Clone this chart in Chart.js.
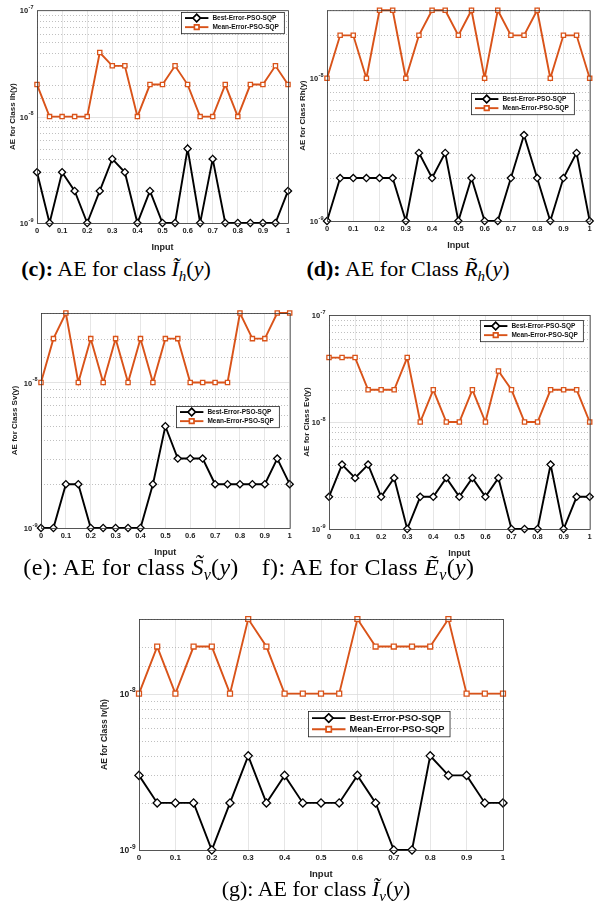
<!DOCTYPE html>
<html>
<head>
<meta charset="utf-8">
<script src="https://cdn.jsdelivr.net/npm/chart.js@4.4.0/dist/chart.umd.min.js"></script>
<style>
  body { margin: 0; background: #fff; width: 595px; height: 914px; position: relative; overflow: hidden; }
  canvas { position: absolute; }
  .cap { position: absolute; font-family: "Liberation Serif", "DejaVu Serif", serif; font-size: 22px; line-height: 26px;
         white-space: nowrap; color: #000; transform: translateX(-50%); }
  .cap sub { font-size: 15px; vertical-align: -5px; line-height: 0; }
  .cap.big { font-size: 24px; line-height: 28px; letter-spacing: 0.3px; }
  .cap.big sub { font-size: 16px; vertical-align: -5px; }
</style>
</head>
<body>
<canvas id="pc"></canvas>
<canvas id="pd"></canvas>
<canvas id="pe"></canvas>
<canvas id="pf"></canvas>
<canvas id="pg"></canvas>

<div class="cap" style="left:116px;top:256px"><b>(c):</b> AE for class <i>Ĩ</i><sub><i>h</i></sub>(<i>y</i>)</div>
<div class="cap" style="left:408px;top:256px"><b>(d):</b> AE for Class <i>R̃</i><sub><i>h</i></sub>(<i>y</i>)</div>
<div class="cap big" style="left:131px;top:553px">(e): AE for class <i>S̃</i><sub><i>v</i></sub>(<i>y</i>)</div>
<div class="cap big" style="left:368px;top:553px">f): AE for Class <i>Ẽ</i><sub><i>v</i></sub>(<i>y</i>)</div>
<div class="cap" style="left:316px;top:876px">(g): AE for class <i>Ĩ</i><sub><i>v</i></sub>(<i>y</i>)</div>

<script>
// x values shared by every panel
const inputs = [0, 0.05, 0.1, 0.15, 0.2, 0.25, 0.3, 0.35, 0.4, 0.45, 0.5, 0.55, 0.6, 0.65, 0.7, 0.75, 0.8, 0.85, 0.9, 0.95, 1];
const seriesLabels = ['Best-Error-PSO-SQP', 'Mean-Error-PSO-SQP'];

// (c) class Ih(y)
const bestIh = [3e-9, 1e-9, 3e-9, 2e-9, 1e-9, 2e-9, 4e-9, 3e-9, 1e-9, 2e-9, 1e-9, 1e-9, 5e-9, 1e-9, 4e-9, 1e-9, 1e-9, 1e-9, 1e-9, 1e-9, 2e-9];
const meanIh = [2e-8, 1e-8, 1e-8, 1e-8, 1e-8, 4e-8, 3e-8, 3e-8, 1e-8, 2e-8, 2e-8, 3e-8, 2e-8, 1e-8, 1e-8, 2e-8, 1e-8, 2e-8, 2e-8, 3e-8, 2e-8];
// (d) class Rh(y)
const bestRh = [1e-9, 2e-9, 2e-9, 2e-9, 2e-9, 2e-9, 1e-9, 3e-9, 2e-9, 3e-9, 1e-9, 2e-9, 1e-9, 1e-9, 2e-9, 4e-9, 2e-9, 1e-9, 2e-9, 3e-9, 1e-9];
const meanRh = [1e-8, 2e-8, 2e-8, 1e-8, 3e-8, 3e-8, 1e-8, 2e-8, 3e-8, 3e-8, 2e-8, 3e-8, 1e-8, 3e-8, 2e-8, 2e-8, 3e-8, 1e-8, 2e-8, 2e-8, 1e-8];
// (e) class Sv(y)
const bestSv = [1e-9, 1e-9, 2e-9, 2e-9, 1e-9, 1e-9, 1e-9, 1e-9, 1e-9, 2e-9, 5e-9, 3e-9, 3e-9, 3e-9, 2e-9, 2e-9, 2e-9, 2e-9, 2e-9, 3e-9, 2e-9];
const meanSv = [1e-8, 2e-8, 3e-8, 1e-8, 2e-8, 1e-8, 2e-8, 1e-8, 2e-8, 1e-8, 2e-8, 2e-8, 1e-8, 1e-8, 1e-8, 1e-8, 3e-8, 2e-8, 2e-8, 3e-8, 3e-8];
// (f) class Ev(y)
const bestEv = [2e-9, 4e-9, 3e-9, 4e-9, 2e-9, 3e-9, 1e-9, 2e-9, 2e-9, 3e-9, 2e-9, 3e-9, 2e-9, 3e-9, 1e-9, 1e-9, 1e-9, 4e-9, 1e-9, 2e-9, 2e-9];
const meanEv = [4e-8, 4e-8, 4e-8, 2e-8, 2e-8, 2e-8, 4e-8, 1e-8, 2e-8, 1e-8, 1e-8, 2e-8, 1e-8, 3e-8, 2e-8, 1e-8, 1e-8, 2e-8, 2e-8, 2e-8, 1e-8];
// (g) class Iv(h)
const bestIv = [3e-9, 2e-9, 2e-9, 2e-9, 1e-9, 2e-9, 4e-9, 2e-9, 3e-9, 2e-9, 2e-9, 2e-9, 3e-9, 2e-9, 1e-9, 1e-9, 4e-9, 3e-9, 3e-9, 2e-9, 2e-9];
const meanIv = [1e-8, 2e-8, 1e-8, 2e-8, 2e-8, 1e-8, 3e-8, 2e-8, 1e-8, 1e-8, 1e-8, 1e-8, 3e-8, 2e-8, 2e-8, 2e-8, 2e-8, 3e-8, 1e-8, 1e-8, 1e-8];

const ORANGE = '#D95319';
const SANS = '"Liberation Sans", Arial, sans-serif';

function isDecade(v) {
    const e = Math.log10(v);
    return Math.abs(e - Math.round(e)) < 1e-6;
}

// MATLAB-ish grid, 10^n labels, box and an inside legend
const framePlugin = {
    id: 'frame',
    beforeDatasetsDraw(chart) {
        const { ctx, chartArea: a } = chart;
        const y = chart.scales.y;
        ctx.save();
        y.ticks.forEach(t => {
            const py = Math.round(y.getPixelForValue(t.value)) + 0.5;
            ctx.beginPath();
            if (isDecade(t.value)) {
                ctx.setLineDash([]);
                ctx.strokeStyle = '#dcdcdc';
            } else {
                ctx.setLineDash([1, 2]);
                ctx.strokeStyle = '#b0b0b0';
            }
            ctx.lineWidth = 0.8;
            ctx.moveTo(a.left, py);
            ctx.lineTo(a.right, py);
            ctx.stroke();
        });
        ctx.restore();
    },
    afterDraw(chart, args, opts) {
        const { ctx, chartArea: a } = chart;
        const y = chart.scales.y;
        ctx.save();
        ctx.strokeStyle = '#333';
        ctx.lineWidth = 0.8;
        ctx.strokeRect(a.left + 0.5, a.top + 0.5, a.right - a.left, a.bottom - a.top);

        // decade labels as 10 with a raised exponent
        ctx.fillStyle = '#222';
        ctx.textBaseline = 'middle';
        ctx.textAlign = 'left';
        y.ticks.filter(t => isDecade(t.value)).forEach(t => {
            const py = y.getPixelForValue(t.value);
            const exp = String(Math.round(Math.log10(t.value)));
            ctx.font = 'bold ' + (opts.tf - 2) + 'px ' + SANS;
            const ew = ctx.measureText(exp).width;
            ctx.font = 'bold ' + opts.tf + 'px ' + SANS;
            const bw = ctx.measureText('10').width;
            const x0 = a.left - 4 - ew - bw;
            ctx.fillText('10', x0, py + 1);
            ctx.font = 'bold ' + (opts.tf - 2) + 'px ' + SANS;
            ctx.fillText(exp, x0 + bw + 0.5, py - opts.tf * 0.35);
        });

        // legend box
        const fs = opts.fs;
        ctx.font = 'bold ' + fs + 'px ' + SANS;
        ctx.textAlign = 'left';
        const lineLen = fs * 3.6;
        const rowH = fs * opts.rh;
        const textW = Math.max(...chart.data.datasets.map(d => ctx.measureText(d.label).width));
        const w = 4 + lineLen + 4 + textW + 5;
        const h = rowH * 2 + 3;
        ctx.fillStyle = '#fff';
        ctx.fillRect(opts.x, opts.y, w, h);
        ctx.strokeStyle = '#222';
        ctx.lineWidth = 0.8;
        ctx.strokeRect(opts.x + 0.5, opts.y + 0.5, w, h);
        chart.data.datasets.forEach((d, i) => {
            const cy = opts.y + 1.5 + rowH * (i + 0.5);
            const x0 = opts.x + 4;
            ctx.beginPath();
            ctx.strokeStyle = d.borderColor;
            ctx.lineWidth = d.borderWidth;
            ctx.moveTo(x0, cy);
            ctx.lineTo(x0 + lineLen, cy);
            ctx.stroke();
            Chart.helpers.drawPoint(ctx, {
                pointStyle: d.pointStyle, radius: d.pointRadius, borderWidth: d.pointBorderWidth, rotation: 0
            }, x0 + lineLen / 2, cy);
            ctx.fillStyle = d.pointBackgroundColor;
            ctx.strokeStyle = d.pointBorderColor;
            ctx.lineWidth = d.pointBorderWidth;
            ctx.fill();
            ctx.stroke();
            ctx.fillStyle = '#111';
            ctx.textBaseline = 'middle';
            ctx.fillText(d.label, x0 + lineLen + 4, cy + 0.5);
        });
        ctx.restore();
    }
};

const panels = [
    { id: 'pc', left: 0, top: 0, w: 295, h: 255, yw: 37, pad: [10, 7, 2], yMax: 1e-7, yTitle: 'AE for Class Ih(y)',
      best: bestIh, mean: meanIh, legend: { x: 181, y: 12, fs: 6.5, rh: 1.4, tf: 7.5 }, r: 3, font: 7.5, tPad: 8 },
    { id: 'pd', left: 295, top: 0, w: 300, h: 255, yw: 32, pad: [9, 2, 4], yMax: 3e-8, yTitle: 'AE for Class Rh(y)',
      best: bestRh, mean: meanRh, legend: { x: 176, y: 93, fs: 6.5, rh: 1.4, tf: 7.5 }, r: 3, font: 7.5, tPad: 3 },
    { id: 'pe', left: 0, top: 300, w: 295, h: 260, yw: 41, pad: [13, 2, 2], yMax: 3e-8, yTitle: 'AE for Class Sv(y)',
      best: bestSv, mean: meanSv, legend: { x: 176, y: 106, fs: 6.5, rh: 1.4, tf: 7.5 }, r: 3, font: 7.5, tPad: 10 },
    { id: 'pf', left: 295, top: 300, w: 300, h: 260, yw: 34, pad: [15, 3, 1], yMax: 1e-7, yTitle: 'AE for Class Ev(y)',
      best: bestEv, mean: meanEv, legend: { x: 185, y: 20, fs: 6.5, rh: 1.4, tf: 7.5 }, r: 3, font: 7.5, tPad: 7 },
    { id: 'pg', left: 90, top: 600, w: 420, h: 282, yw: 49, pad: [19, 7, 2], yMax: 3e-8, yTitle: 'AE for Class Iv(h)',
      best: bestIv, mean: meanIv, legend: { x: 218, y: 111, fs: 9.3, rh: 1.2, tf: 8.5 }, r: 3.5, font: 8, tPad: 10 }
];

function makePanel(p) {
    const cv = document.getElementById(p.id);
    cv.width = p.w;
    cv.height = p.h;
    cv.style.left = p.left + 'px';
    cv.style.top = p.top + 'px';

    const tickFont = { family: SANS, size: p.font, weight: 'bold' };
    new Chart(cv, {
        type: 'line',
        data: {
            datasets: [{
                label: seriesLabels[0],
                data: inputs.map((x, i) => ({ x: x, y: p.best[i] })),
                borderColor: '#000',
                borderWidth: 1.9,
                pointStyle: 'rectRot',
                pointRadius: p.r + 0.6,
                pointBorderWidth: 1.3,
                pointBorderColor: '#000',
                pointBackgroundColor: '#fff',
                clip: false
            }, {
                label: seriesLabels[1],
                data: inputs.map((x, i) => ({ x: x, y: p.mean[i] })),
                borderColor: ORANGE,
                borderWidth: 1.9,
                pointStyle: 'rect',
                pointRadius: p.r,
                pointBorderWidth: 1.3,
                pointBorderColor: ORANGE,
                pointBackgroundColor: '#fff',
                clip: false
            }]
        },
        options: {
            responsive: false,
            animation: false,
            layout: { padding: { top: p.pad[0], right: p.pad[1], bottom: p.pad[2], left: 0 } },
            plugins: {
                legend: { display: false },
                tooltip: { enabled: false },
                frame: p.legend
            },
            scales: {
                x: {
                    type: 'linear',
                    min: 0,
                    max: 1,
                    ticks: {
                        stepSize: 0.1,
                        autoSkip: false,
                        maxRotation: 0,
                        padding: 3,
                        color: '#222',
                        font: tickFont,
                        callback: v => String(Number(v.toFixed(1)))
                    },
                    grid: { color: '#e0e0e0', lineWidth: 0.8, drawTicks: false },
                    border: { display: false },
                    title: { display: true, text: 'Input', color: '#222', padding: { top: 2, bottom: 0 },
                             font: { family: SANS, size: p.font + 1.5, weight: 'bold' } },
                    afterFit: s => { s.height = 30; }
                },
                y: {
                    type: 'logarithmic',
                    min: 1e-9,
                    max: p.yMax,
                    ticks: { autoSkip: false, callback: () => '' },
                    grid: { display: false },
                    border: { display: false },
                    title: { display: true, text: p.yTitle, color: '#222', padding: { top: p.tPad, bottom: 2 },
                             font: { family: SANS, size: p.font + 0.5, weight: 'bold' } },
                    afterFit: s => { s.width = p.yw; }
                }
            }
        },
        plugins: [framePlugin]
    });
}

panels.forEach(makePanel);
</script>
</body>
</html>
